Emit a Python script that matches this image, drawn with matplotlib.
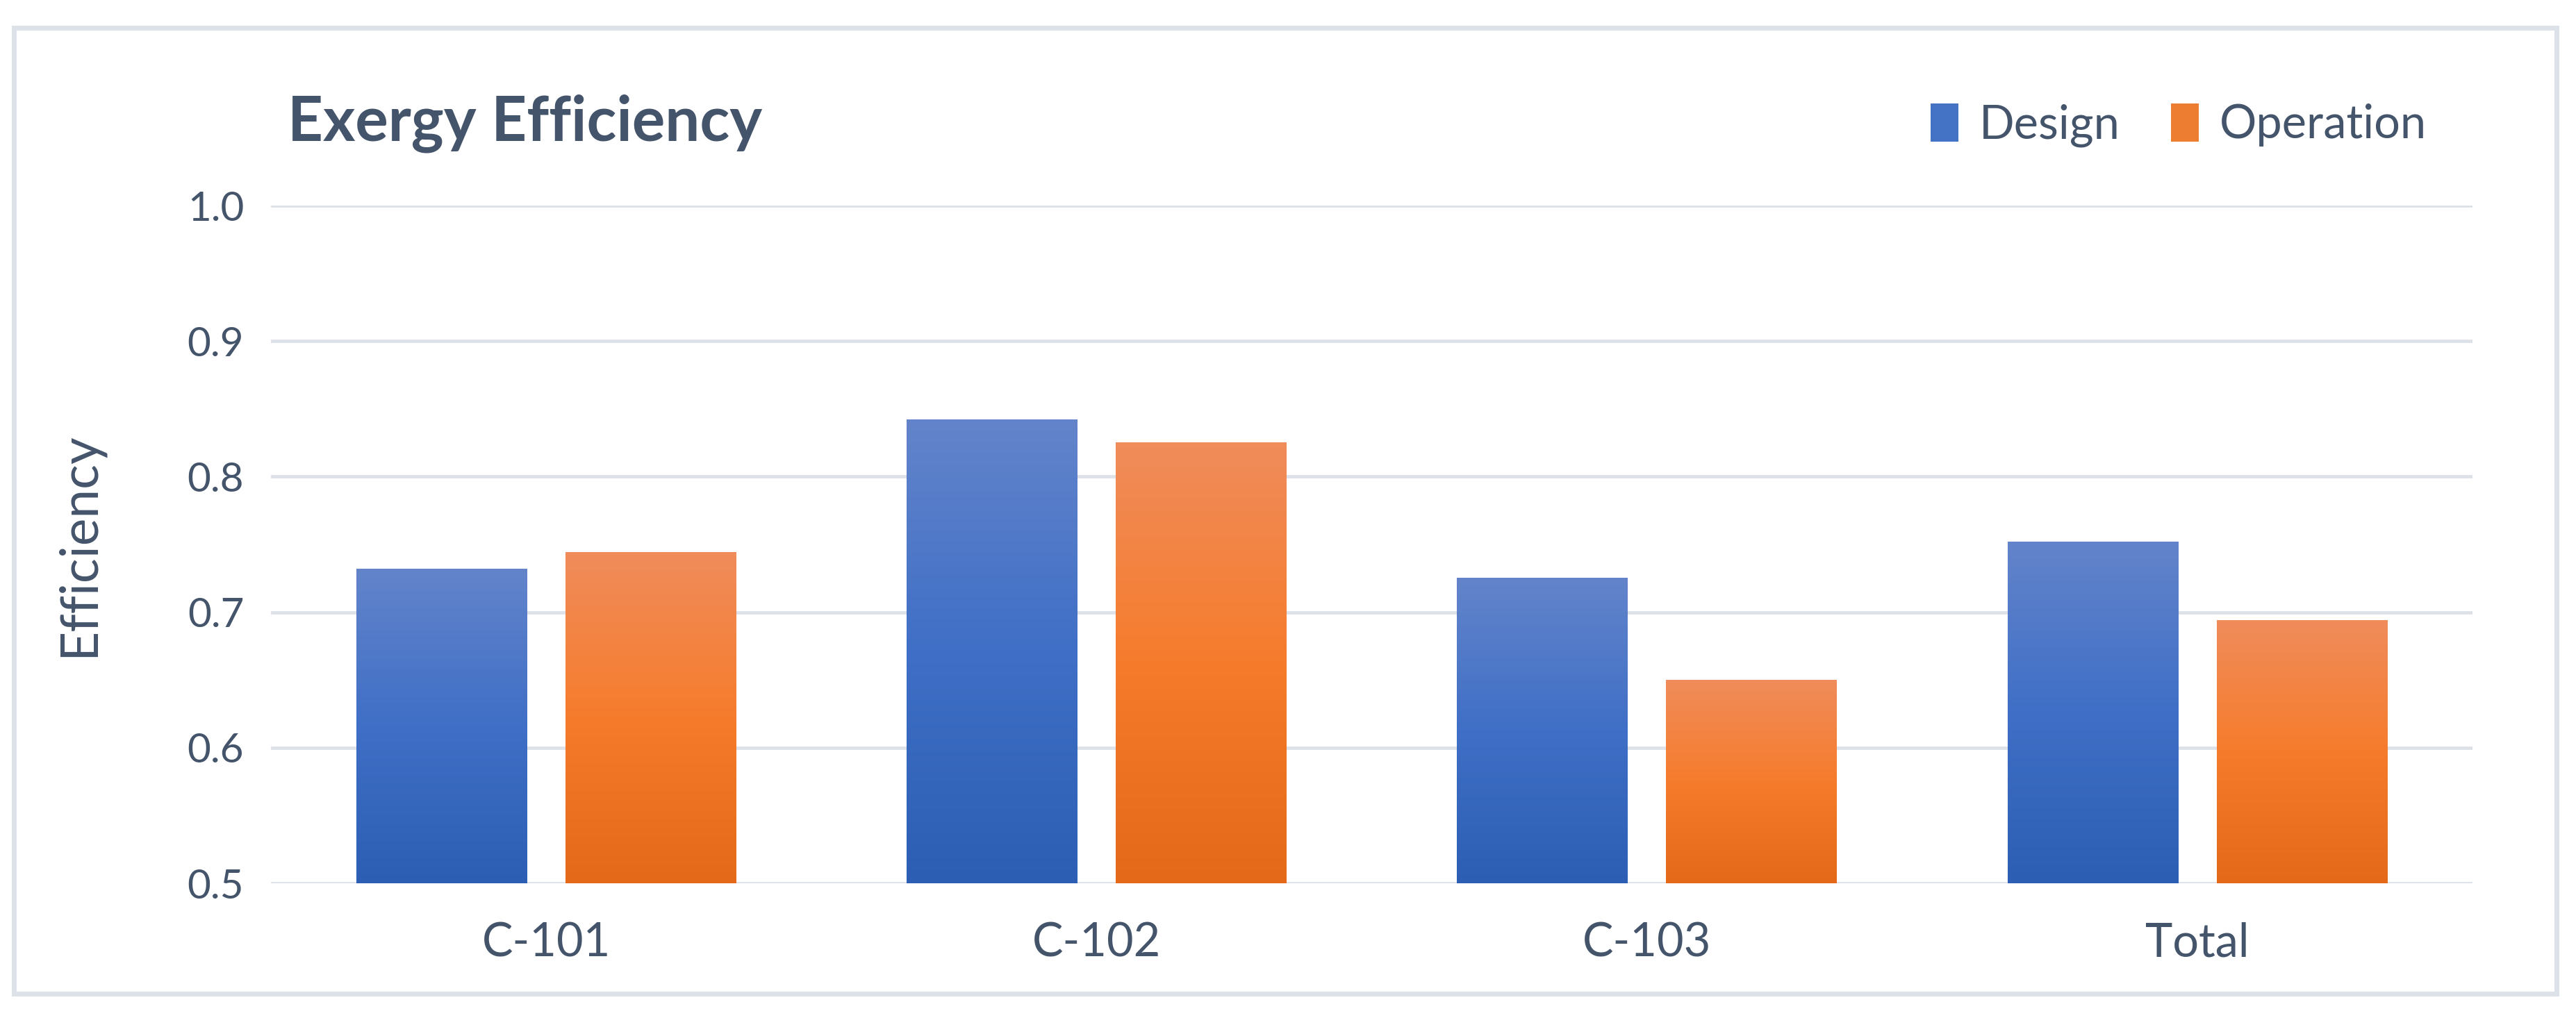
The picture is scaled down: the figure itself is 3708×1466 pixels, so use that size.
import numpy as np
import matplotlib
matplotlib.use("Agg")
import matplotlib.pyplot as plt
from matplotlib.colors import LinearSegmentedColormap
from matplotlib.patches import Rectangle

# dati
categorie = ["C-101", "C-102", "C-103", "Total"]
design = [0.732, 0.842, 0.725, 0.752]
operation = [0.744, 0.825, 0.650, 0.694]

testo = "#44546A"
griglia = "#DDE1E8"

plt.rcParams['font.family'] = ['Lato', 'DejaVu Sans']

fig = plt.figure(figsize=(18.54, 7.33), dpi=200)
ax = fig.add_axes([0.1052, 0.1323, 0.8546, 0.6657])

x = np.arange(len(categorie))
w = 0.31
off = 0.19

# gradienti verticali come in Excel
cmap_blu = LinearSegmentedColormap.from_list("blu", ["#2C5FB4", "#3F6FC6", "#6384CB"])
cmap_ara = LinearSegmentedColormap.from_list("ara", ["#E46918", "#F67C2C", "#F08C5B"])
grad = np.linspace(0, 1, 256).reshape(-1, 1)

b1 = ax.bar(x - off, design, w, bottom=0, color="#4472C4", label="Design", zorder=2)
b2 = ax.bar(x + off, operation, w, bottom=0, color="#ED7D31", label="Operation", zorder=2)

for barre, cm in [(b1, cmap_blu), (b2, cmap_ara)]:
    for p in barre:
        x0, h = p.get_x(), p.get_height()
        ax.imshow(grad, extent=[x0, x0 + p.get_width(), 0.5, h], origin="lower",
                  aspect="auto", cmap=cm, zorder=3)

ax.set_xlim(-0.5, len(categorie) - 0.5)
ax.set_ylim(0.5, 1.0)
ax.set_yticks([0.5, 0.6, 0.7, 0.8, 0.9, 1.0])
ax.yaxis.set_major_formatter(matplotlib.ticker.FormatStrFormatter("%.1f"))
ax.set_xticks(x)
ax.set_xticklabels(categorie)
ax.grid(axis="y", color=griglia, linewidth=1.7, zorder=0)
ax.set_axisbelow(True)
for s in ax.spines.values():
    s.set_visible(False)
ax.tick_params(length=0, colors=testo)
ax.tick_params(axis="y", labelsize=21, pad=14)
ax.tick_params(axis="x", labelsize=24, pad=20)

fig.text(0.0305, 0.465, "Efficiency", fontsize=27, color=testo, rotation=90,
         ha="center", va="center")

fig.text(0.1117, 0.879, "Exergy Efficiency", fontsize=32, fontweight="bold",
         color=testo, va="center", ha="left")

leg = fig.legend(handles=[b1, b2], loc="center right", bbox_to_anchor=(0.942, 0.877),
                 ncol=2, frameon=False, fontsize=24, labelcolor=testo,
                 borderpad=0, borderaxespad=0,
                 handlelength=0.6, handleheight=0.9, handletextpad=0.45, columnspacing=1.1)

# cornice esterna
fig.patches.append(Rectangle((0.0055, 0.024), 0.987, 0.949, transform=fig.transFigure,
                             fill=False, edgecolor=griglia, linewidth=2.5))

fig.savefig("out.png", dpi=200, facecolor="white")
